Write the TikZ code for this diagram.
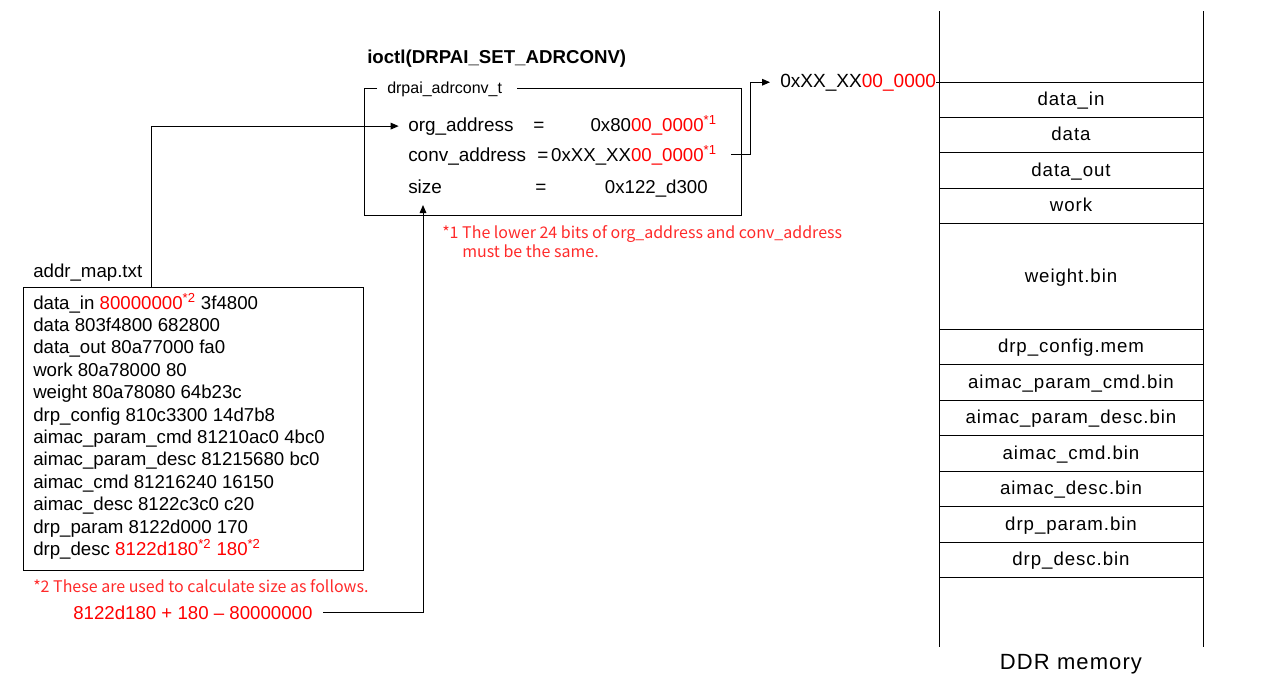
\documentclass[tikz,border=0pt]{standalone}
\usepackage{fontspec}
\setmainfont{Liberation Sans}
\newfontfamily\jpfont{Noto Sans CJK JP}
\newfontfamily\ddrfont[LetterSpace=5]{Liberation Sans}
\usetikzlibrary{arrows.meta}
\definecolor{notered}{HTML}{FF2A2A}
\newcommand{\supr}[1]{\textcolor{red}{\textsuperscript{#1}}}
\begin{document}
\begin{tikzpicture}[x=0.75pt,y=-0.75pt,
  every node/.style={inner sep=0pt},
  tb/.style={anchor=base west,font=\fontsize{14.2}{16}\selectfont},
  tbr/.style={anchor=base east,font=\fontsize{14}{16}\selectfont},
  tm/.style={anchor=base west,font=\fontsize{14}{16}\selectfont},
  note/.style={anchor=base west,font=\jpfont\fontsize{12}{14}\selectfont,text=notered},
  ddr/.style={anchor=base,font=\ddrfont\fontsize{14}{16}\selectfont},
  ln/.style={line width=0.75pt},
  arr/.style={ln,-{Triangle[length=6pt,width=5pt]}},
]
\useasboundingbox (0,0) rectangle (1264,679);

% ---- ioctl title and structure box
\node[anchor=base west,font=\bfseries\fontsize{14}{16}\selectfont] (title) at (367,63) {ioctl(DRPAI\_SET\_ADRCONV)};
\node[anchor=base west,font=\fontsize{12}{14}\selectfont] (boxlabel) at (387,93) {drpai\_adrconv\_t};
\draw[ln] (377,88) -- (364,88) -- (364,215) -- (741,215) -- (741,88) -- (517,88);

\node[tb] (org) at (408,131) {org\_address};
\node[tb] (orgeq) at (533,131) {=};
\node[tbr] (orgval) at (717,131) {0x80\textcolor{red}{00\_0000}\supr{*1}};
\node[tb] (conv) at (408,161) {conv\_address};
\node[tb] (conveq) at (537,161) {=};
\node[tbr] (convval) at (717,161) {0xXX\_XX\textcolor{red}{00\_0000}\supr{*1}};
\node[tb] (size) at (408,193) {size};
\node[tb] (sizeeq) at (535,193) {=};
\node[tbr] (sizeval) at (708,193) {0x122\_d300};

\node[note] (n1a) at (442,238) {*1 The lower 24 bits of org\_address and conv\_address};
\node[note] (n1b) at (462,257) {must be the same.};

% ---- converted address
\node[anchor=base west,font=\fontsize{14.3}{16}\selectfont] (xx) at (780,87) {0xXX\_XX\textcolor{red}{00\_0000}};
\coordinate (convout) at (731,154);
\draw[arr] (convout) -- ++(19,0) |- ([xshift=-7.5pt]xx.west);

% ---- DDR memory
\coordinate (ddrR) at (1203,0);
\draw[ln] (939,11) -- (939,647);
\draw[ln] (1203,11) -- (1203,647);
\draw[ln] (xx.east) -- (xx.east -| ddrR);
\foreach \y in {117,152,188,223,329,364,400,435,471,506,542,577}
  \draw[ln] (939,\y) -- (1203,\y);
\node[ddr] (m1) at (1071,105) {data\_in};
\node[ddr] (m2) at (1071,140.5) {data};
\node[ddr] (m3) at (1071,176) {data\_out};
\node[ddr] (m4) at (1071,211.5) {work};
\node[ddr] (m5) at (1071,282) {weight.bin};
\node[ddr] (m6) at (1071,352.5) {drp\_config.mem};
\node[ddr] (m7) at (1071,388) {aimac\_param\_cmd.bin};
\node[ddr] (m8) at (1071,423.5) {aimac\_param\_desc.bin};
\node[ddr] (m9) at (1071,459) {aimac\_cmd.bin};
\node[ddr] (m10) at (1071,494.5) {aimac\_desc.bin};
\node[ddr] (m11) at (1071,530) {drp\_param.bin};
\node[ddr] (m12) at (1071,565.5) {drp\_desc.bin};
\node[anchor=base,font=\ddrfont\fontsize{16.5}{19}\selectfont] (ddrlabel) at (1071,669) {DDR memory};

% ---- addr_map.txt
\node[tm] (maplabel) at (33,277) {addr\_map.txt};
\draw[ln] (23,287) rectangle (363,570);
\coordinate (mapout) at (151,287);
\node[tm] (l1) at (33,309) {data\_in \textcolor{red}{80000000}\supr{*2} 3f4800};
\node[tm] (l2) at (33,331.4) {data 803f4800 682800};
\node[tm] (l3) at (33,353.8) {data\_out 80a77000 fa0};
\node[tm] (l4) at (33,376.2) {work 80a78000 80};
\node[tm] (l5) at (33,398.6) {weight 80a78080 64b23c};
\node[tm] (l6) at (33,421) {drp\_config 810c3300 14d7b8};
\node[tm] (l7) at (33,443.4) {aimac\_param\_cmd 81210ac0 4bc0};
\node[tm] (l8) at (33,465.8) {aimac\_param\_desc 81215680 bc0};
\node[tm] (l9) at (33,488.2) {aimac\_cmd 81216240 16150};
\node[tm] (l10) at (33,510.6) {aimac\_desc 8122c3c0 c20};
\node[tm] (l11) at (33,533) {drp\_param 8122d000 170};
\node[tm] (l12) at (33,555.4) {drp\_desc \textcolor{red}{8122d180}\supr{*2} \textcolor{red}{180}\supr{*2}};

\node[note] (n2) at (33,592) {*2 These are used to calculate size as follows.};
\node[tm,text=red] (calc) at (73,619) {8122d180 + 180 \textendash{} 80000000};

% ---- connectors
\draw[arr] (mapout) |- ([xshift=-7pt]org.west);
\coordinate (sizein) at (423,205);
\draw[arr] ([xshift=8pt]calc.east) -| (sizein);
\end{tikzpicture}
\end{document}
